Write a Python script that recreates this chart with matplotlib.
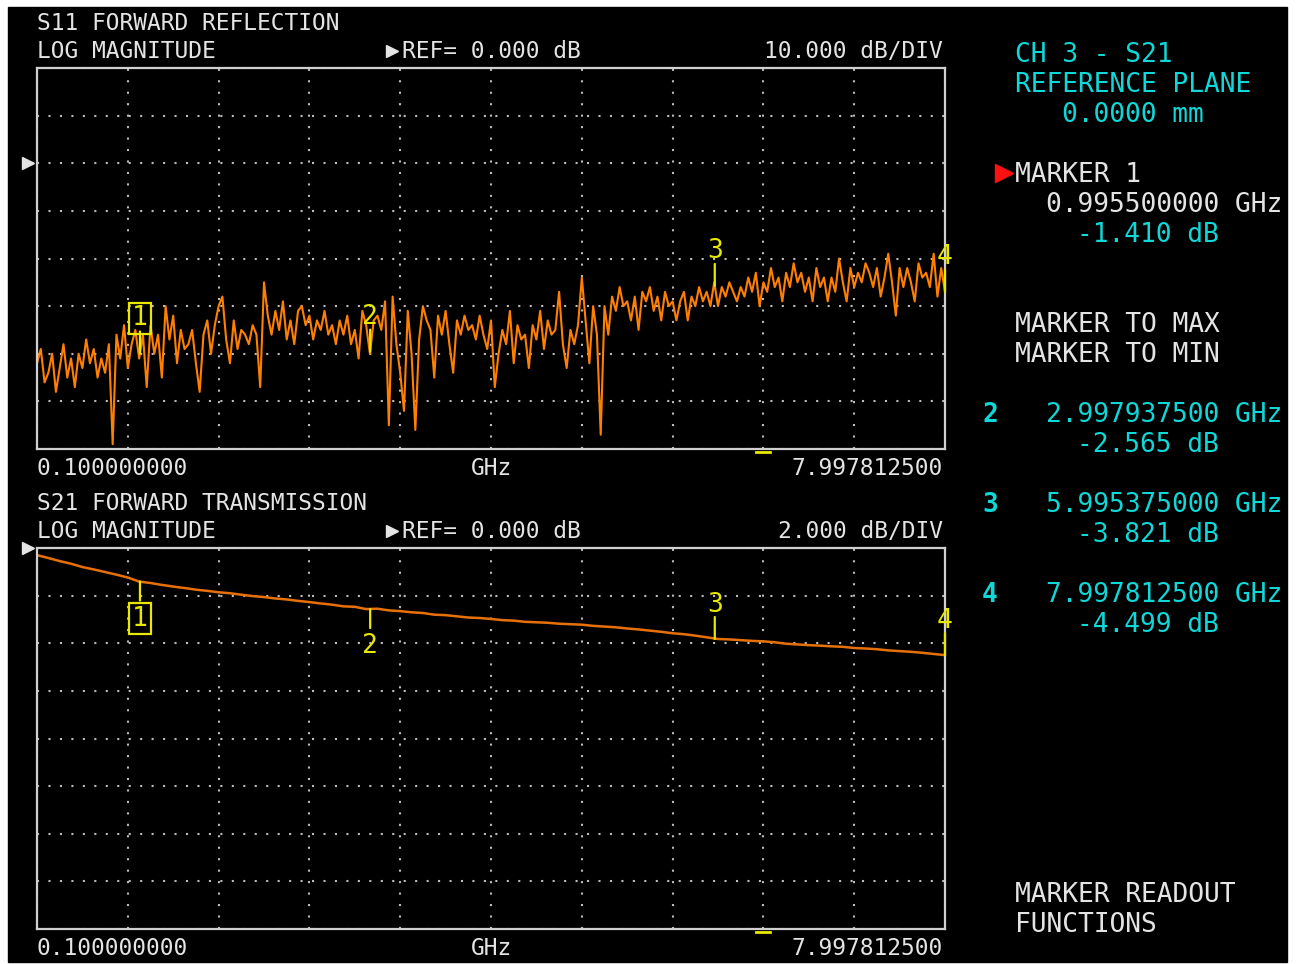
import numpy as np
import matplotlib.pyplot as plt

# sweep settings
f_start = 0.1
f_stop = 7.9978125

# S11 log magnitude trace (dB)
s11_db = [
    -42, -39, -46, -44, -40, -48, -43, -38, -45, -41,
    -47, -40, -43, -37, -42, -39, -45, -41, -44, -38,
    -59, -36, -41, -34, -43, -38, -35, -41, -36, -47,
    -34, -40, -36, -45, -30, -37, -32, -42, -35, -39,
    -38, -35, -42, -48, -36, -33, -40, -34, -30, -28,
    -37, -42, -33, -39, -35, -36, -38, -34, -36, -47,
    -25, -32, -36, -31, -35, -29, -37, -33, -38, -31,
    -30, -34, -32, -37, -33, -35, -31, -36, -34, -38,
    -33, -36, -32, -38, -35, -41, -31, -34, -40, -33,
    -32, -35, -29, -55, -28, -38, -44, -52, -31, -40,
    -56, -37, -30, -33, -35, -45, -32, -36, -31, -38,
    -44, -33, -36, -32, -35, -34, -37, -32, -36, -39,
    -33, -47, -40, -35, -38, -31, -42, -34, -37, -36,
    -43, -34, -37, -31, -39, -33, -36, -35, -27, -38,
    -43, -35, -38, -34, -24, -33, -42, -30, -36, -57,
    -30, -36, -28, -31, -26, -30, -29, -33, -28, -35,
    -27, -29, -26, -31, -28, -33, -27, -30, -29, -33,
    -29, -27, -33, -28, -30, -26, -29, -27, -30, -25,
    -30, -26, -28, -25, -27, -29, -26, -28, -24, -27,
    -23, -30, -25, -27, -22, -26, -24, -29, -23, -26,
    -21, -25, -23, -27, -24, -29, -22, -26, -24, -29,
    -24, -27, -20, -25, -29, -22, -26, -23, -25, -21,
    -23, -26, -22, -28, -24, -19, -25, -32, -22, -26,
    -22, -25, -29, -21, -24, -23, -26, -19, -28, -22, -27,
]

# S21 log magnitude trace (dB)
s21_db = [
    -0.30, -0.42, -0.55, -0.66, -0.80, -0.90, -1.01, -1.12, -1.24, -1.41,
    -1.47, -1.55, -1.62, -1.68, -1.75, -1.80, -1.86, -1.90, -1.96, -2.02,
    -2.06, -2.12, -2.16, -2.22, -2.27, -2.33, -2.38, -2.45, -2.47, -2.565,
    -2.55, -2.62, -2.65, -2.70, -2.73, -2.80, -2.82, -2.87, -2.92, -2.94,
    -2.98, -3.03, -3.05, -3.10, -3.12, -3.14, -3.18, -3.20, -3.22, -3.27,
    -3.30, -3.33, -3.38, -3.42, -3.47, -3.52, -3.58, -3.62, -3.68, -3.75,
    -3.821, -3.84, -3.87, -3.90, -3.92, -3.96, -4.02, -4.05, -4.08, -4.10,
    -4.13, -4.15, -4.20, -4.22, -4.25, -4.30, -4.33, -4.36, -4.40, -4.45,
    -4.499,
]

marker_ids = ['1', '2', '3', '4']
marker_ghz = [0.9955, 2.9979375, 5.995375, 7.9978125]
marker_db = [-1.410, -2.565, -3.821, -4.499]

W, H = 1301, 964
WHITE = '#e4e4e4'
CYAN = '#10d8d8'
YEL = '#e8e800'
GRID = '#bcbcbc'
MONO = 'DejaVu Sans Mono'

fig = plt.figure(figsize=(W / 100, H / 100), dpi=100)
fig.patch.set_facecolor('white')

# whole screen in pixel coords
bg = fig.add_axes([0, 0, 1, 1])
bg.set_xlim(0, W)
bg.set_ylim(H, 0)
bg.axis('off')
bg.add_patch(plt.Rectangle((8, 7), 1279, 955, color='black', zorder=0))


def txt(x, y, s, color=WHITE, size=16.5, ha='left', weight='normal'):
    bg.text(x, y, s, color=color, fontsize=size, family=MONO, ha=ha,
            va='baseline', fontweight=weight)


def screen_axes(x0, y0, x1, y1, ylo, yhi):
    ax = fig.add_axes([x0 / W, 1 - y1 / H, (x1 - x0) / W, (y1 - y0) / H])
    ax.set_facecolor('black')
    ax.set_xlim(f_start, f_stop)
    ax.set_ylim(ylo, yhi)
    ax.set_xticks(np.linspace(f_start, f_stop, 11))
    ax.set_yticks(np.linspace(ylo, yhi, 9))
    ax.tick_params(length=0, labelbottom=False, labelleft=False)
    ax.grid(True, color=GRID, linestyle=(0, (1, 4.5)), linewidth=1.5)
    for sp in ax.spines.values():
        sp.set_color('#d0d0d0')
        sp.set_linewidth(1.6)
    return ax


def marker(ax, f, v, label, tick_px, label_px, boxed=False):
    k = 0.72  # px -> points
    ax.annotate('', xy=(f, v), xytext=(0, tick_px * k), textcoords='offset points',
                arrowprops=dict(arrowstyle='-', color=YEL, lw=1.6,
                                shrinkA=0, shrinkB=0), annotation_clip=False)
    box = None
    if boxed:
        box = dict(boxstyle='square,pad=0.1', fc='none', ec=YEL, lw=1.6)
    ax.annotate(label, xy=(f, v), xytext=(0, label_px * k), textcoords='offset points',
                ha='center', va='center', color=YEL, fontsize=19, family=MONO,
                bbox=box, annotation_clip=False)


# --- S11 panel ---
freq11 = np.linspace(f_start, f_stop, len(s11_db))
ax1 = screen_axes(37, 68, 945, 449, -60, 20)
ax1.plot(freq11, s11_db, color='#ff8000', lw=1.5)
for i, (mid, mf) in enumerate(zip(marker_ids, marker_ghz)):
    v = np.interp(mf, freq11, s11_db)
    marker(ax1, mf, v, mid, 22, 35, boxed=(i == 0))

# --- S21 panel ---
freq21 = np.linspace(f_start, f_stop, len(s21_db))
ax2 = screen_axes(37, 548, 945, 929, -16, 0)
ax2.plot(freq21, s21_db, color='#e87008', lw=1.8)
for i, (mid, mf, md) in enumerate(zip(marker_ids, marker_ghz, marker_db)):
    if i < 2:
        marker(ax2, mf, md, mid, -19, -37, boxed=(i == 0))
    else:
        marker(ax2, mf, md, mid, 22, 34)

# --- left annotations ---
txt(37, 30, 'S11 FORWARD REFLECTION')
txt(37, 58, 'LOG MAGNITUDE')
txt(402, 58, 'REF= 0.000 dB')
txt(943, 58, '10.000 dB/DIV', ha='right')
txt(37, 475, '0.100000000')
txt(491, 475, 'GHz', ha='center')
txt(943, 475, '7.997812500', ha='right')

txt(37, 510, 'S21 FORWARD TRANSMISSION')
txt(37, 538, 'LOG MAGNITUDE')
txt(402, 538, 'REF= 0.000 dB')
txt(943, 538, '2.000 dB/DIV', ha='right')
txt(37, 955, '0.100000000')
txt(491, 955, 'GHz', ha='center')
txt(943, 955, '7.997812500', ha='right')

# small triangles and active-marker dashes
bg.plot([392, 392], [51, 531], ls='none', marker='>', ms=8, color=WHITE)
bg.plot([28, 28], [163, 548], ls='none', marker='>', ms=8, color=WHITE)
bg.plot([756, 770], [452, 452], color=YEL, lw=2)
bg.plot([756, 770], [932, 932], color=YEL, lw=2)

# --- right panel ---
R = 18.9
txt(1015, 62, 'CH 3 - S21', CYAN, R)
txt(1015, 92, 'REFERENCE PLANE', CYAN, R)
txt(1062, 122, '0.0000 mm', CYAN, R)

bg.plot([1004], [173], marker='>', ms=13, color='#ff1010')
txt(1015, 182, 'MARKER 1', WHITE, R)
txt(1046, 212, '%.9f GHz' % marker_ghz[0], WHITE, R)
txt(1077, 242, '%.3f dB' % marker_db[0], CYAN, R)

txt(1015, 332, 'MARKER TO MAX', WHITE, R)
txt(1015, 362, 'MARKER TO MIN', WHITE, R)

for k in range(1, 4):
    y = 422 + (k - 1) * 90
    txt(982, y, marker_ids[k], CYAN, R, weight='bold')
    txt(1046, y, '%.9f GHz' % marker_ghz[k], CYAN, R)
    txt(1077, y + 30, '%.3f dB' % marker_db[k], CYAN, R)

txt(1015, 902, 'MARKER READOUT', WHITE, R)
txt(1015, 932, 'FUNCTIONS', WHITE, R)

fig.savefig('out.png', dpi=100, facecolor='white')
